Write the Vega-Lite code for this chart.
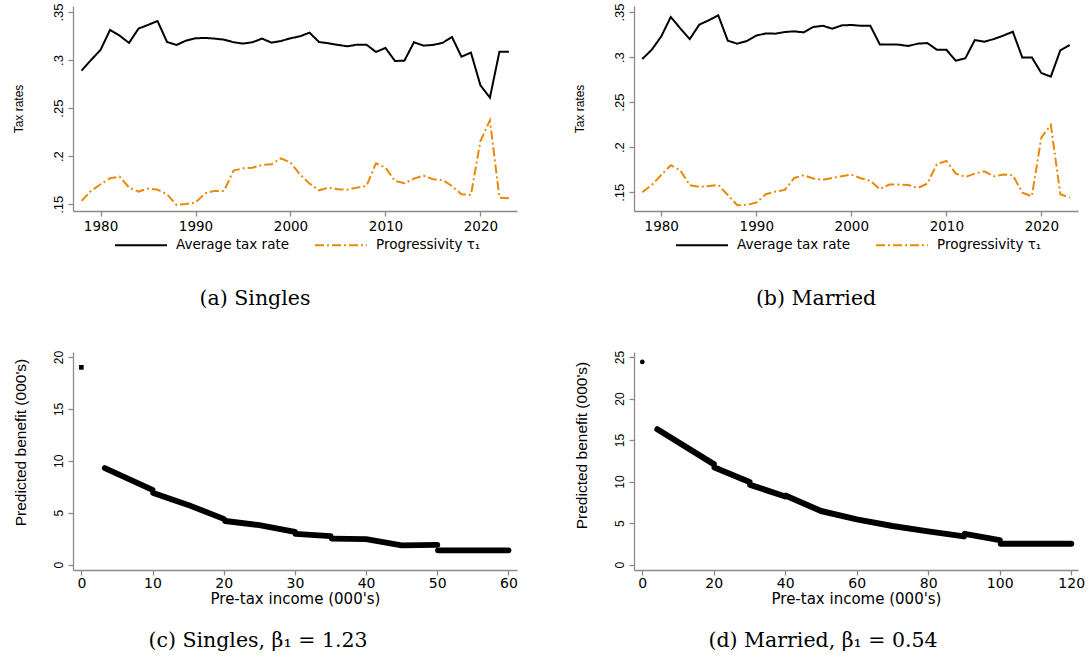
{
  "$schema": "https://vega.github.io/schema/vega-lite/v6.json",
  "background": "white",
  "padding": {"left": 12, "top": 2, "right": 5, "bottom": 5},
  "config": {
    "view": {"stroke": null},
    "font": "DejaVu Sans",
    "axis": {
      "grid": false,
      "domainColor": "#8a8a8a",
      "tickColor": "#8a8a8a",
      "domainWidth": 1.3,
      "tickWidth": 1.3,
      "tickSize": 5,
      "labelColor": "black",
      "titleColor": "black",
      "titleFontWeight": "normal",
      "labelPadding": 3
    },
    "title": {"font": "DejaVu Serif", "fontWeight": "normal", "fontSize": 20.5, "color": "black"}
  },
  "datasets": {
    "tax_singles": [
      {"year":1978,"series":"Average tax rate","value":0.289},{"year":1979,"series":"Average tax rate","value":0.300},{"year":1980,"series":"Average tax rate","value":0.3105},{"year":1981,"series":"Average tax rate","value":0.3313},{"year":1982,"series":"Average tax rate","value":0.3254},{"year":1983,"series":"Average tax rate","value":0.3178},{"year":1984,"series":"Average tax rate","value":0.3327},{"year":1985,"series":"Average tax rate","value":0.3365},{"year":1986,"series":"Average tax rate","value":0.3406},{"year":1987,"series":"Average tax rate","value":0.3188},{"year":1988,"series":"Average tax rate","value":0.3157},{"year":1989,"series":"Average tax rate","value":0.3202},{"year":1990,"series":"Average tax rate","value":0.3226},{"year":1991,"series":"Average tax rate","value":0.3230},{"year":1992,"series":"Average tax rate","value":0.3223},{"year":1993,"series":"Average tax rate","value":0.3212},{"year":1994,"series":"Average tax rate","value":0.3185},{"year":1995,"series":"Average tax rate","value":0.3171},{"year":1996,"series":"Average tax rate","value":0.3185},{"year":1997,"series":"Average tax rate","value":0.3223},{"year":1998,"series":"Average tax rate","value":0.3181},{"year":1999,"series":"Average tax rate","value":0.3198},{"year":2000,"series":"Average tax rate","value":0.3226},{"year":2001,"series":"Average tax rate","value":0.3247},{"year":2002,"series":"Average tax rate","value":0.3285},{"year":2003,"series":"Average tax rate","value":0.3188},{"year":2004,"series":"Average tax rate","value":0.3174},{"year":2005,"series":"Average tax rate","value":0.3157},{"year":2006,"series":"Average tax rate","value":0.3143},{"year":2007,"series":"Average tax rate","value":0.316},{"year":2008,"series":"Average tax rate","value":0.316},{"year":2009,"series":"Average tax rate","value":0.3084},{"year":2010,"series":"Average tax rate","value":0.3126},{"year":2011,"series":"Average tax rate","value":0.299},{"year":2012,"series":"Average tax rate","value":0.2994},{"year":2013,"series":"Average tax rate","value":0.3185},{"year":2014,"series":"Average tax rate","value":0.315},{"year":2015,"series":"Average tax rate","value":0.3157},{"year":2016,"series":"Average tax rate","value":0.3178},{"year":2017,"series":"Average tax rate","value":0.324},{"year":2018,"series":"Average tax rate","value":0.3035},{"year":2019,"series":"Average tax rate","value":0.3077},{"year":2020,"series":"Average tax rate","value":0.2737},{"year":2021,"series":"Average tax rate","value":0.2609},{"year":2022,"series":"Average tax rate","value":0.3087},{"year":2023,"series":"Average tax rate","value":0.3087},
      {"year":1978,"series":"Progressivity τ₁","value":0.1535},{"year":1979,"series":"Progressivity τ₁","value":0.1639},{"year":1980,"series":"Progressivity τ₁","value":0.1708},{"year":1981,"series":"Progressivity τ₁","value":0.177},{"year":1982,"series":"Progressivity τ₁","value":0.1788},{"year":1983,"series":"Progressivity τ₁","value":0.1673},{"year":1984,"series":"Progressivity τ₁","value":0.1632},{"year":1985,"series":"Progressivity τ₁","value":0.1663},{"year":1986,"series":"Progressivity τ₁","value":0.1652},{"year":1987,"series":"Progressivity τ₁","value":0.1604},{"year":1988,"series":"Progressivity τ₁","value":0.1493},{"year":1989,"series":"Progressivity τ₁","value":0.1503},{"year":1990,"series":"Progressivity τ₁","value":0.1517},{"year":1991,"series":"Progressivity τ₁","value":0.1614},{"year":1992,"series":"Progressivity τ₁","value":0.1639},{"year":1993,"series":"Progressivity τ₁","value":0.1639},{"year":1994,"series":"Progressivity τ₁","value":0.185},{"year":1995,"series":"Progressivity τ₁","value":0.1874},{"year":1996,"series":"Progressivity τ₁","value":0.1881},{"year":1997,"series":"Progressivity τ₁","value":0.1909},{"year":1998,"series":"Progressivity τ₁","value":0.1916},{"year":1999,"series":"Progressivity τ₁","value":0.1978},{"year":2000,"series":"Progressivity τ₁","value":0.1933},{"year":2001,"series":"Progressivity τ₁","value":0.1812},{"year":2002,"series":"Progressivity τ₁","value":0.1715},{"year":2003,"series":"Progressivity τ₁","value":0.1645},{"year":2004,"series":"Progressivity τ₁","value":0.1673},{"year":2005,"series":"Progressivity τ₁","value":0.1656},{"year":2006,"series":"Progressivity τ₁","value":0.1652},{"year":2007,"series":"Progressivity τ₁","value":0.1673},{"year":2008,"series":"Progressivity τ₁","value":0.169},{"year":2009,"series":"Progressivity τ₁","value":0.1926},{"year":2010,"series":"Progressivity τ₁","value":0.1881},{"year":2011,"series":"Progressivity τ₁","value":0.1742},{"year":2012,"series":"Progressivity τ₁","value":0.1718},{"year":2013,"series":"Progressivity τ₁","value":0.1767},{"year":2014,"series":"Progressivity τ₁","value":0.1798},{"year":2015,"series":"Progressivity τ₁","value":0.176},{"year":2016,"series":"Progressivity τ₁","value":0.1753},{"year":2017,"series":"Progressivity τ₁","value":0.169},{"year":2018,"series":"Progressivity τ₁","value":0.1604},{"year":2019,"series":"Progressivity τ₁","value":0.1597},{"year":2020,"series":"Progressivity τ₁","value":0.2158},{"year":2021,"series":"Progressivity τ₁","value":0.2373},{"year":2022,"series":"Progressivity τ₁","value":0.1569},{"year":2023,"series":"Progressivity τ₁","value":0.1562}
    ],
    "tax_married": [
      {"year":1978,"series":"Average tax rate","value":0.2979},{"year":1979,"series":"Average tax rate","value":0.3082},{"year":1980,"series":"Average tax rate","value":0.323},{"year":1981,"series":"Average tax rate","value":0.3445},{"year":1982,"series":"Average tax rate","value":0.3319},{"year":1983,"series":"Average tax rate","value":0.32},{"year":1984,"series":"Average tax rate","value":0.336},{"year":1985,"series":"Average tax rate","value":0.3408},{"year":1986,"series":"Average tax rate","value":0.3463},{"year":1987,"series":"Average tax rate","value":0.3182},{"year":1988,"series":"Average tax rate","value":0.3149},{"year":1989,"series":"Average tax rate","value":0.3178},{"year":1990,"series":"Average tax rate","value":0.3238},{"year":1991,"series":"Average tax rate","value":0.3263},{"year":1992,"series":"Average tax rate","value":0.326},{"year":1993,"series":"Average tax rate","value":0.3278},{"year":1994,"series":"Average tax rate","value":0.3286},{"year":1995,"series":"Average tax rate","value":0.3274},{"year":1996,"series":"Average tax rate","value":0.3334},{"year":1997,"series":"Average tax rate","value":0.3348},{"year":1998,"series":"Average tax rate","value":0.3315},{"year":1999,"series":"Average tax rate","value":0.3352},{"year":2000,"series":"Average tax rate","value":0.3356},{"year":2001,"series":"Average tax rate","value":0.3348},{"year":2002,"series":"Average tax rate","value":0.3348},{"year":2003,"series":"Average tax rate","value":0.3141},{"year":2004,"series":"Average tax rate","value":0.3141},{"year":2005,"series":"Average tax rate","value":0.3138},{"year":2006,"series":"Average tax rate","value":0.3123},{"year":2007,"series":"Average tax rate","value":0.3149},{"year":2008,"series":"Average tax rate","value":0.3156},{"year":2009,"series":"Average tax rate","value":0.3082},{"year":2010,"series":"Average tax rate","value":0.3082},{"year":2011,"series":"Average tax rate","value":0.296},{"year":2012,"series":"Average tax rate","value":0.2986},{"year":2013,"series":"Average tax rate","value":0.3189},{"year":2014,"series":"Average tax rate","value":0.3171},{"year":2015,"series":"Average tax rate","value":0.32},{"year":2016,"series":"Average tax rate","value":0.3238},{"year":2017,"series":"Average tax rate","value":0.3282},{"year":2018,"series":"Average tax rate","value":0.2994},{"year":2019,"series":"Average tax rate","value":0.2997},{"year":2020,"series":"Average tax rate","value":0.2823},{"year":2021,"series":"Average tax rate","value":0.2783},{"year":2022,"series":"Average tax rate","value":0.3075},{"year":2023,"series":"Average tax rate","value":0.3134},
      {"year":1978,"series":"Progressivity τ₁","value":0.15},{"year":1979,"series":"Progressivity τ₁","value":0.1581},{"year":1980,"series":"Progressivity τ₁","value":0.1692},{"year":1981,"series":"Progressivity τ₁","value":0.18},{"year":1982,"series":"Progressivity τ₁","value":0.1744},{"year":1983,"series":"Progressivity τ₁","value":0.1578},{"year":1984,"series":"Progressivity τ₁","value":0.1559},{"year":1985,"series":"Progressivity τ₁","value":0.157},{"year":1986,"series":"Progressivity τ₁","value":0.1581},{"year":1987,"series":"Progressivity τ₁","value":0.147},{"year":1988,"series":"Progressivity τ₁","value":0.1356},{"year":1989,"series":"Progressivity τ₁","value":0.136},{"year":1990,"series":"Progressivity τ₁","value":0.1385},{"year":1991,"series":"Progressivity τ₁","value":0.1478},{"year":1992,"series":"Progressivity τ₁","value":0.1507},{"year":1993,"series":"Progressivity τ₁","value":0.1526},{"year":1994,"series":"Progressivity τ₁","value":0.1659},{"year":1995,"series":"Progressivity τ₁","value":0.1689},{"year":1996,"series":"Progressivity τ₁","value":0.1652},{"year":1997,"series":"Progressivity τ₁","value":0.1637},{"year":1998,"series":"Progressivity τ₁","value":0.1659},{"year":1999,"series":"Progressivity τ₁","value":0.1678},{"year":2000,"series":"Progressivity τ₁","value":0.1696},{"year":2001,"series":"Progressivity τ₁","value":0.1655},{"year":2002,"series":"Progressivity τ₁","value":0.1629},{"year":2003,"series":"Progressivity τ₁","value":0.1535},{"year":2004,"series":"Progressivity τ₁","value":0.1585},{"year":2005,"series":"Progressivity τ₁","value":0.1585},{"year":2006,"series":"Progressivity τ₁","value":0.1581},{"year":2007,"series":"Progressivity τ₁","value":0.1548},{"year":2008,"series":"Progressivity τ₁","value":0.1596},{"year":2009,"series":"Progressivity τ₁","value":0.1811},{"year":2010,"series":"Progressivity τ₁","value":0.1848},{"year":2011,"series":"Progressivity τ₁","value":0.1707},{"year":2012,"series":"Progressivity τ₁","value":0.167},{"year":2013,"series":"Progressivity τ₁","value":0.1707},{"year":2014,"series":"Progressivity τ₁","value":0.1733},{"year":2015,"series":"Progressivity τ₁","value":0.1678},{"year":2016,"series":"Progressivity τ₁","value":0.1696},{"year":2017,"series":"Progressivity τ₁","value":0.1689},{"year":2018,"series":"Progressivity τ₁","value":0.1496},{"year":2019,"series":"Progressivity τ₁","value":0.1455},{"year":2020,"series":"Progressivity τ₁","value":0.2106},{"year":2021,"series":"Progressivity τ₁","value":0.2247},{"year":2022,"series":"Progressivity τ₁","value":0.1478},{"year":2023,"series":"Progressivity τ₁","value":0.1441}
    ],
    "ben_singles": [
      {"kind":"pt","seg":0,"income":0,"benefit":19.0},
      {"kind":"line","seg":1,"income":3.3,"benefit":9.3},{"kind":"line","seg":1,"income":10,"benefit":7.2},
      {"kind":"line","seg":2,"income":10.1,"benefit":6.9},{"kind":"line","seg":2,"income":15,"benefit":5.75},{"kind":"line","seg":2,"income":20,"benefit":4.4},
      {"kind":"line","seg":3,"income":20.2,"benefit":4.2},{"kind":"line","seg":3,"income":25,"benefit":3.8},{"kind":"line","seg":3,"income":30,"benefit":3.15},
      {"kind":"line","seg":4,"income":30.1,"benefit":2.95},{"kind":"line","seg":4,"income":35,"benefit":2.75},
      {"kind":"line","seg":5,"income":35.2,"benefit":2.5},{"kind":"line","seg":5,"income":40,"benefit":2.45},{"kind":"line","seg":5,"income":45,"benefit":1.85},{"kind":"line","seg":5,"income":50,"benefit":1.9},
      {"kind":"line","seg":6,"income":50.1,"benefit":1.38},{"kind":"line","seg":6,"income":60,"benefit":1.38}
    ],
    "ben_married": [
      {"kind":"pt","seg":0,"income":0,"benefit":24.4},
      {"kind":"line","seg":1,"income":4.2,"benefit":16.3},{"kind":"line","seg":1,"income":20,"benefit":12.1},
      {"kind":"line","seg":2,"income":20.2,"benefit":11.7},{"kind":"line","seg":2,"income":30,"benefit":9.95},
      {"kind":"line","seg":3,"income":30.2,"benefit":9.6},{"kind":"line","seg":3,"income":40,"benefit":8.2},
      {"kind":"line","seg":4,"income":40.2,"benefit":8.3},{"kind":"line","seg":4,"income":50,"benefit":6.45},{"kind":"line","seg":4,"income":60,"benefit":5.45},{"kind":"line","seg":4,"income":70,"benefit":4.65},{"kind":"line","seg":4,"income":80,"benefit":4.0},{"kind":"line","seg":4,"income":90,"benefit":3.4},
      {"kind":"line","seg":5,"income":90.2,"benefit":3.7},{"kind":"line","seg":5,"income":100,"benefit":2.95},
      {"kind":"line","seg":6,"income":100.3,"benefit":2.5},{"kind":"line","seg":6,"income":120,"benefit":2.5}
    ]
  },
  "spacing": 346,
  "bounds": "flush",
  "vconcat": [
    {
      "spacing": 117,
      "bounds": "flush",
      "resolve": {"legend": {"color": "independent", "strokeDash": "independent"}},
      "hconcat": [
        {
          "width": 444, "height": 205,
          "data": {"name": "tax_singles"},
          "title": {"text": "(a) Singles", "orient": "bottom", "anchor": "middle", "dx": -40, "offset": 37},
          "mark": {"type": "line", "strokeWidth": 2},
          "encoding": {
            "x": {"field": "year", "type": "quantitative", "scale": {"domain": [1977.1, 2023.85], "nice": false, "zero": false},
                  "axis": {"values": [1980, 1990, 2000, 2010, 2020], "format": "d", "title": null, "labelFontSize": 13.5, "labelFont": "DejaVu Sans"}},
            "y": {"field": "value", "type": "quantitative", "scale": {"domain": [0.143, 0.3562], "nice": false, "zero": false},
                  "axis": {"values": [0.15, 0.2, 0.25, 0.3, 0.35], "labelExpr": "slice(format(datum.value, '.2~f'), 1)", "labelAngle": 270, "labelFont": "Liberation Sans", "labelFontSize": 13, "title": "Tax rates", "titleFont": "Liberation Sans", "titleFontSize": 12, "titlePadding": 27}},
            "color": {"field": "series", "type": "nominal", "scale": {"domain": ["Average tax rate", "Progressivity τ₁"], "range": ["black", "#E8890C"]},
                      "legend": {"orient": "none", "legendX": 41, "legendY": 212, "direction": "horizontal", "title": null, "symbolType": "stroke", "symbolSize": 2700, "symbolStrokeWidth": 2, "labelFontSize": 13.5, "labelFont": "DejaVu Sans", "labelOffset": 8, "columnPadding": 22, "columns": 2}},
            "strokeDash": {"field": "series", "type": "nominal", "scale": {"domain": ["Average tax rate", "Progressivity τ₁"], "range": [[1, 0], [9, 3, 2, 3]]},
                      "legend": {"orient": "none", "legendX": 41, "legendY": 212, "direction": "horizontal", "title": null, "symbolType": "stroke", "symbolSize": 2700, "symbolStrokeWidth": 2, "labelFontSize": 13.5, "labelFont": "DejaVu Sans", "labelOffset": 8, "columnPadding": 22, "columns": 2}}
          }
        },
        {
          "width": 444, "height": 205,
          "data": {"name": "tax_married"},
          "title": {"text": "(b) Married", "orient": "bottom", "anchor": "middle", "dx": -40, "offset": 37},
          "mark": {"type": "line", "strokeWidth": 2},
          "encoding": {
            "x": {"field": "year", "type": "quantitative", "scale": {"domain": [1977.13, 2023.86], "nice": false, "zero": false},
                  "axis": {"values": [1980, 1990, 2000, 2010, 2020], "format": "d", "title": null, "labelFontSize": 13.5, "labelFont": "DejaVu Sans"}},
            "y": {"field": "value", "type": "quantitative", "scale": {"domain": [0.1292, 0.3567], "nice": false, "zero": false},
                  "axis": {"values": [0.15, 0.2, 0.25, 0.3, 0.35], "labelExpr": "slice(format(datum.value, '.2~f'), 1)", "labelAngle": 270, "labelFont": "Liberation Sans", "labelFontSize": 13, "title": "Tax rates", "titleFont": "Liberation Sans", "titleFontSize": 12, "titlePadding": 27}},
            "color": {"field": "series", "type": "nominal", "scale": {"domain": ["Average tax rate", "Progressivity τ₁"], "range": ["black", "#E8890C"]},
                      "legend": {"orient": "none", "legendX": 41, "legendY": 212, "direction": "horizontal", "title": null, "symbolType": "stroke", "symbolSize": 2700, "symbolStrokeWidth": 2, "labelFontSize": 13.5, "labelFont": "DejaVu Sans", "labelOffset": 8, "columnPadding": 22, "columns": 2}},
            "strokeDash": {"field": "series", "type": "nominal", "scale": {"domain": ["Average tax rate", "Progressivity τ₁"], "range": [[1, 0], [9, 3, 2, 3]]},
                      "legend": {"orient": "none", "legendX": 41, "legendY": 212, "direction": "horizontal", "title": null, "symbolType": "stroke", "symbolSize": 2700, "symbolStrokeWidth": 2, "labelFontSize": 13.5, "labelFont": "DejaVu Sans", "labelOffset": 8, "columnPadding": 22, "columns": 2}}
          }
        }
      ]
    },
    {
      "spacing": 117,
      "bounds": "flush",
      "hconcat": [
        {
          "width": 444, "height": 218,
          "data": {"name": "ben_singles"},
          "title": {"text": "(c) Singles, β₁ = 1.23", "orient": "bottom", "anchor": "middle", "dx": -37, "offset": 25},
          "encoding": {
            "x": {"field": "income", "type": "quantitative", "scale": {"domain": [-1.17, 61.2], "nice": false, "zero": false},
                  "axis": {"values": [0, 10, 20, 30, 40, 50, 60], "title": "Pre-tax income (000's)", "titleFont": "DejaVu Sans", "titleFontSize": 15, "titlePadding": 1, "labelFontSize": 14, "labelPadding": 1, "labelFont": "DejaVu Sans"}},
            "y": {"field": "benefit", "type": "quantitative", "scale": {"domain": [-0.52, 20.48], "nice": false, "zero": false},
                  "axis": {"values": [0, 5, 10, 15, 20], "labelAngle": 270, "labelFont": "Liberation Sans", "labelFontSize": 12, "title": "Predicted benefit (000's)", "titleFont": "Liberation Sans", "titleFontSize": 15.5, "titlePadding": 24, "titleY": 90}}
          },
          "layer": [
            {"transform": [{"filter": "datum.kind === 'line'"}], "mark": {"type": "line", "color": "black", "strokeWidth": 5.8, "strokeCap": "round", "strokeJoin": "round"}, "encoding": {"detail": {"field": "seg", "type": "nominal"}}},
            {"transform": [{"filter": "datum.kind === 'pt'"}], "mark": {"type": "point", "shape": "square", "filled": true, "color": "black", "size": 22, "opacity": 1}}
          ]
        },
        {
          "width": 444, "height": 218,
          "data": {"name": "ben_married"},
          "title": {"text": "(d) Married, β₁ = 0.54", "orient": "bottom", "anchor": "middle", "dx": -33, "offset": 25},
          "encoding": {
            "x": {"field": "income", "type": "quantitative", "scale": {"domain": [-2.32, 121.9], "nice": false, "zero": false},
                  "axis": {"values": [0, 20, 40, 60, 80, 100, 120], "title": "Pre-tax income (000's)", "titleFont": "DejaVu Sans", "titleFontSize": 15, "titlePadding": 1, "labelFontSize": 14, "labelPadding": 1, "labelFont": "DejaVu Sans"}},
            "y": {"field": "benefit", "type": "quantitative", "scale": {"domain": [-0.65, 25.6], "nice": false, "zero": false},
                  "axis": {"values": [0, 5, 10, 15, 20, 25], "labelAngle": 270, "labelFont": "Liberation Sans", "labelFontSize": 12, "title": "Predicted benefit (000's)", "titleFont": "Liberation Sans", "titleFontSize": 15.5, "titlePadding": 24, "titleY": 93}}
          },
          "layer": [
            {"transform": [{"filter": "datum.kind === 'line'"}], "mark": {"type": "line", "color": "black", "strokeWidth": 6, "strokeCap": "round", "strokeJoin": "round"}, "encoding": {"detail": {"field": "seg", "type": "nominal"}}},
            {"transform": [{"filter": "datum.kind === 'pt'"}], "mark": {"type": "point", "shape": "circle", "filled": true, "color": "black", "size": 22, "opacity": 1}}
          ]
        }
      ]
    }
  ]
}
